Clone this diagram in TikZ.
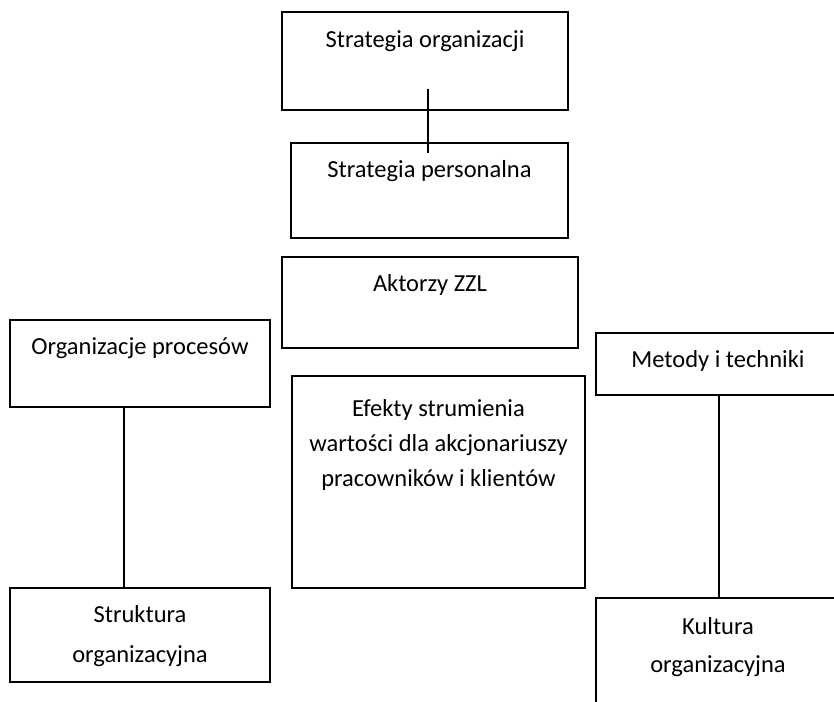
\documentclass[tikz,border=0pt]{standalone}
\usepackage{fontspec}
\setmainfont{Carlito}
\usepackage{tikz}
\tikzset{
  frame/.style={draw, line width=1.3pt, inner sep=0pt},
  lbl/.style={font=\fontsize{24.5}{35}\selectfont, align=center, inner sep=0pt, anchor=base}
}

\begin{document}
\begin{tikzpicture}[x=1pt, y=-1pt]
        \useasboundingbox (0,0) rectangle (834,701);
        \clip (0,0) rectangle (834,701);

        % Middle column
        \node[frame, minimum width=286pt, minimum height=98pt] (so) at (425,61) {};
        \node[frame, minimum width=277pt, minimum height=95pt] (sp) at (429.5,190.5) {};
        \node[frame, minimum width=296pt, minimum height=91pt] (akt) at (430,302.5) {};
        \node[frame, minimum width=293pt, minimum height=212pt] (ef) at (438.5,482) {};

        % Left column
        \node[frame, minimum width=260pt, minimum height=87pt] (op) at (140,363.5) {};
        \node[frame, minimum width=260pt, minimum height=94pt] (str) at (140,635) {};

        % Right column
        \node[frame, minimum width=244pt, minimum height=62pt] (met) at (718,364) {};
        \node[frame, minimum width=244pt, minimum height=132pt] (kul) at (718,664) {};

        % Labels (base = last line)
        \node[lbl] at ([yshift=-36pt]so.north) {Strategia organizacji};
        \node[lbl] at ([yshift=-35pt]sp.north) {Strategia personalna};
        \node[lbl] at ([yshift=-35pt]akt.north) {Aktorzy ZZL};
        \node[lbl] at ([yshift=-111pt]ef.north) {Efekty strumienia\\wartości dla akcjonariuszy\\pracowników i klientów};
        \node[lbl] at ([yshift=-35pt]op.north) {Organizacje procesów};
        \node[lbl, font=\fontsize{24.5}{40}\selectfont] at ([yshift=-75pt]str.north) {Struktura\\organizacyjna};
        \node[lbl] at ([yshift=-35pt]met.north) {Metody i techniki};
        \node[lbl, font=\fontsize{24.5}{38}\selectfont] at ([yshift=-75pt]kul.north) {Kultura\\organizacyjna};

        % Links
        \draw[line width=1.3pt] ([xshift=3pt, yshift=22pt]so.south) -- ([xshift=-1.5pt, yshift=-11pt]sp.north);
        \draw[line width=1.3pt] ([xshift=-16pt]op.south) -- ([xshift=-16pt]str.north);
        \draw[line width=1.3pt] ([xshift=1pt]met.south) -- ([xshift=1pt]kul.north);
      \end{tikzpicture}
\end{document}
